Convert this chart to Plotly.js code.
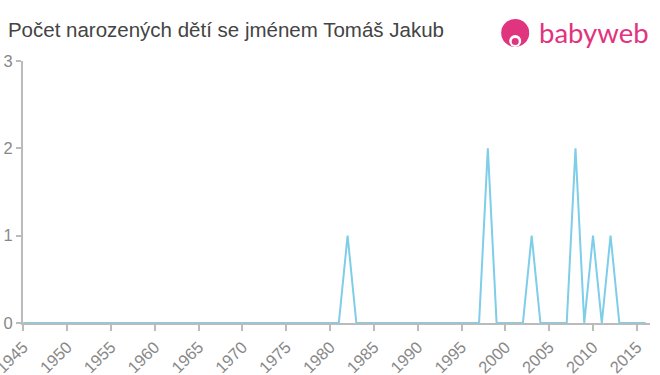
<!DOCTYPE html>
<html><head><meta charset="utf-8">
<script src="https://cdn.plot.ly/plotly-3.0.1.min.js"></script>
<style>html,body{margin:0;padding:0;background:#fff}#c{width:660px;height:375px}</style>
</head><body><div id="c"></div>
<script>
const years = [];
for (let y = 1945; y <= 2016; y++) years.push(y);
const nonZero = {1982: 1, 1998: 2, 2003: 1, 2008: 2, 2010: 1, 2012: 1};
const counts = years.map(y => nonZero[y] || 0);
const xTicks = [1945,1950,1955,1960,1965,1970,1975,1980,1985,1990,1995,2000,2005,2010,2015];
const yTicks = [0,1,2,3];

const trace = {x: years, y: counts, type: 'scatter', mode: 'lines',
  line: {color: '#7ecde9', width: 2}, hoverinfo: 'skip'};
const pink = '#e0347e';
const layout = {
  width: 660, height: 375,
  margin: {l: 23, r: 10, t: 61, b: 52},
  paper_bgcolor: '#fff', plot_bgcolor: '#fff',
  showlegend: false,
  title: {text: 'Počet narozených dětí se jménem Tomáš Jakub', x: 0.012, xanchor: 'left', y: 0.92, yanchor: 'middle',
    font: {family: 'Liberation Sans, Arial, sans-serif', size: 20.5, color: '#444'}},
  xaxis: {range: [1944.97, 2016.5], tickvals: xTicks, ticktext: xTicks.map(String), tickangle: -45,
    ticklabeloverflow: 'allow',
    showgrid: false, zeroline: false, showline: true, linecolor: '#bbb', linewidth: 2,
    ticks: 'outside', ticklen: 6, tickcolor: '#bbb', tickwidth: 2,
    tickfont: {family: 'Liberation Sans, Arial, sans-serif', size: 16.5, color: '#888'}},
  yaxis: {range: [0, 3], tickvals: yTicks, showgrid: false, zeroline: false, showline: true,
    linecolor: '#bbb', linewidth: 2, ticks: 'outside', ticklen: 5, tickcolor: '#bbb', tickwidth: 2,
    tickfont: {family: 'Liberation Sans, Arial, sans-serif', size: 16.5, color: '#888'}},
  shapes: [
    {type: 'circle', xref: 'paper', yref: 'paper', xsizemode: 'pixel', ysizemode: 'pixel',
     xanchor: 0.785, yanchor: 1.107, x0: -14, x1: 14, y0: -14, y1: 14, fillcolor: pink, line: {width: 0}, layer: 'above'},
    {type: 'circle', xref: 'paper', yref: 'paper', xsizemode: 'pixel', ysizemode: 'pixel',
     xanchor: 0.785, yanchor: 1.107, x0: -6, x1: 6, y0: -14, y1: -2, fillcolor: '#fff', line: {width: 0}, layer: 'above'},
    {type: 'circle', xref: 'paper', yref: 'paper', xsizemode: 'pixel', ysizemode: 'pixel',
     xanchor: 0.785, yanchor: 1.107, x0: -3.5, x1: 3.5, y0: -12, y1: -5, fillcolor: pink, line: {width: 0}, layer: 'above'}
  ],
  annotations: [{xref: 'paper', yref: 'paper', x: 0.82, y: 1.107, xanchor: 'left', yanchor: 'middle',
    text: 'babyweb', showarrow: false, font: {family: 'Lato, Noto Sans, sans-serif', size: 27.5, color: pink}}]
};
Plotly.newPlot('c', [trace], layout, {displayModeBar: false, staticPlot: true});
</script></body></html>
